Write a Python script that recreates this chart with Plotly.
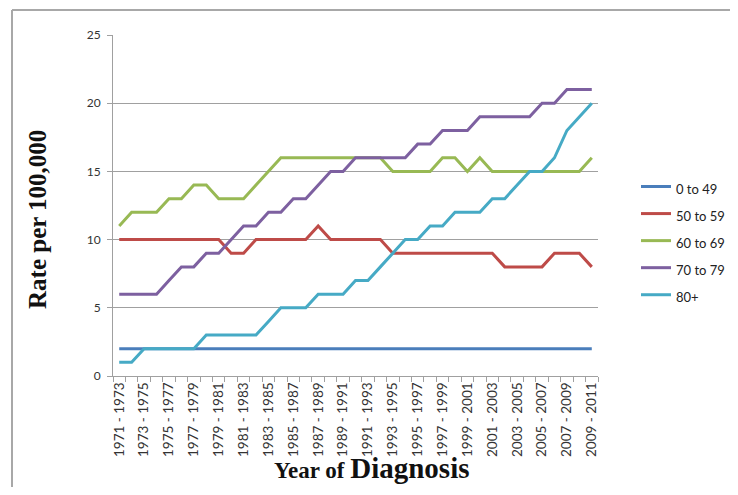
import plotly.graph_objects as go

years = list(range(1971, 2010))
categories = [f"{y} - {y + 2}" for y in years]

series_names = ["0 to 49", "50 to 59", "60 to 69", "70 to 79", "80+"]
age_0_49 = [2] * 39
age_50_59 = [10, 10, 10, 10, 10, 10, 10, 10, 10, 9, 9, 10, 10, 10, 10, 10, 11, 10, 10, 10,
             10, 10, 9, 9, 9, 9, 9, 9, 9, 9, 9, 8, 8, 8, 8, 9, 9, 9, 8]
age_60_69 = [11, 12, 12, 12, 13, 13, 14, 14, 13, 13, 13, 14, 15, 16, 16, 16, 16, 16, 16, 16,
             16, 16, 15, 15, 15, 15, 16, 16, 15, 16, 15, 15, 15, 15, 15, 15, 15, 15, 16]
age_70_79 = [6, 6, 6, 6, 7, 8, 8, 9, 9, 10, 11, 11, 12, 12, 13, 13, 14, 15, 15, 16,
             16, 16, 16, 16, 17, 17, 18, 18, 18, 19, 19, 19, 19, 19, 20, 20, 21, 21, 21]
age_80_plus = [1, 1, 2, 2, 2, 2, 2, 3, 3, 3, 3, 3, 4, 5, 5, 5, 6, 6, 6, 7,
               7, 8, 9, 10, 10, 11, 11, 12, 12, 12, 13, 13, 14, 15, 15, 16, 18, 19, 20]
colors = ["#4A7EBB", "#BE4B48", "#98B954", "#7D60A0", "#46AAC5"]

tick_text = [c if i % 2 == 0 else "" for i, c in enumerate(categories)]
y_ticks = [0, 5, 10, 15, 20, 25]
x_title = "<b><span style='font-size:23px'>Year of </span><span style='font-size:29px'>Diagnosis</span></b>"
y_title = "<b>Rate per 100,000</b>"

fig = go.Figure()
for name, vals, col in zip(series_names, [age_0_49, age_50_59, age_60_69, age_70_79, age_80_plus], colors):
    fig.add_trace(go.Scatter(x=categories, y=vals, mode="lines",
                             name=f"<span style='font-size:13px'>{name}</span>",
                             line=dict(color=col, width=3)))

# page body has an 8px offset
OFF = 8
W, H = 738 - 2 * OFF, 495 - 2 * OFF
ml = 113 - OFF
mt = 35 - OFF
pw = 598 - 113
ph = 376 - 35
mr = W - ml - pw
mb = H - mt - ph

def px_x(p):
    return (p - OFF - ml) / pw

def px_y(p):
    return (H - mb - (p - OFF)) / ph

serif = "Liberation Serif, Times New Roman, serif"

fig.update_layout(
    width=W, height=H,
    margin=dict(l=ml, r=mr, t=mt, b=mb, autoexpand=False),
    paper_bgcolor="white", plot_bgcolor="white",
    font=dict(family="Lato, Open Sans, sans-serif", color="#333333"),
    showlegend=True,
    legend=dict(x=px_x(636), y=px_y(168), xanchor="left", yanchor="top",
                font=dict(size=18.5, color="#222222"), bgcolor="rgba(0,0,0,0)",
                tracegroupgap=0),
    xaxis=dict(type="category", categoryorder="array", categoryarray=categories,
               tickmode="array", tickvals=categories, ticktext=tick_text,
               tickangle=-90, tickson="boundaries", ticks="outside", ticklen=5,
               tickcolor="#A0A0A0", showline=True, linecolor="#A0A0A0", linewidth=1,
               showgrid=False, tickfont=dict(size=13.5, color="#333333"),
               automargin=False, range=[-0.5, 38.5]),
    yaxis=dict(range=[0, 25], tickvals=y_ticks, showgrid=True, gridcolor="#A0A0A0", gridwidth=1,
               showline=True, linecolor="#A0A0A0", linewidth=1, ticks="outside", ticklen=5,
               tickcolor="#A0A0A0", tickfont=dict(size=12, color="#333333"), zeroline=False,
               ticklabelstandoff=4, automargin=False),
    annotations=[
        dict(text=x_title, xref="paper", yref="paper", x=px_x(372), y=px_y(468),
             xanchor="center", yanchor="middle", showarrow=False,
             font=dict(family=serif, color="#111111")),
        dict(text=y_title, xref="paper", yref="paper", x=px_x(37), y=px_y(220),
             xanchor="center", yanchor="middle", showarrow=False, textangle=-90,
             font=dict(family=serif, size=25, color="#111111")),
    ],
    shapes=[
        dict(type="line", xref="paper", yref="paper", x0=px_x(12), x1=px_x(760), y0=px_y(10), y1=px_y(10),
             line=dict(color="#A8A8A8", width=2)),
        dict(type="line", xref="paper", yref="paper", x0=px_x(12), x1=px_x(12), y0=px_y(10), y1=px_y(520),
             line=dict(color="#A8A8A8", width=2)),
    ],
)

fig.write_html("out.html")
